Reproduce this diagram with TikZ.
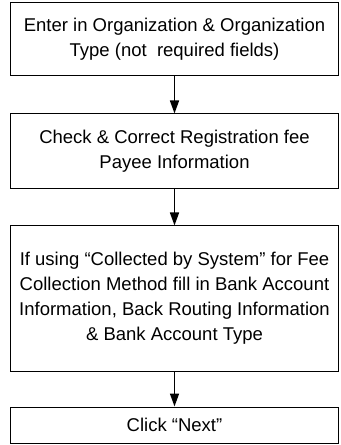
\documentclass[tikz,border=0pt]{standalone}
\usepackage{fontspec}
\setmainfont{Liberation Sans}
\usetikzlibrary{arrows.meta}

\tikzset{
  flowbox/.style={draw, line width=1bp, minimum width=327bp, align=center,
    inner sep=2bp, font=\fontsize{18.5bp}{25bp}\selectfont},
  flowarrow/.style={line width=1.5bp, -{Triangle[length=13bp, width=9bp]}}
}

\begin{document}
\begin{tikzpicture}[x=1bp, y=-1bp]

\useasboundingbox (0,0) rectangle (340,445);

% Boxes
\node[flowbox, minimum height=73bp] (enter) at (174.5,39.5)
  {Enter in Organization \& Organization\\Type (not~ required fields)};
\node[flowbox, minimum height=75bp] (check) at (174.5,151.5)
  {Check \& Correct Registration fee\\Payee Information};
\node[flowbox, minimum height=145bp] (bank) at (174.5,298.5)
  {If using “Collected by System” for Fee\\Collection Method fill in Bank Account\\Information, Back Routing Information\\\& Bank Account Type};
\node[flowbox, minimum height=36bp] (next) at (174.5,425)
  {Click “Next”};

% Arrows
\draw[flowarrow] (enter.south) -- (check.north);
\draw[flowarrow] (check.south) -- (bank.north);
\draw[flowarrow] (bank.south) -- (next.north);

\end{tikzpicture}
\end{document}
